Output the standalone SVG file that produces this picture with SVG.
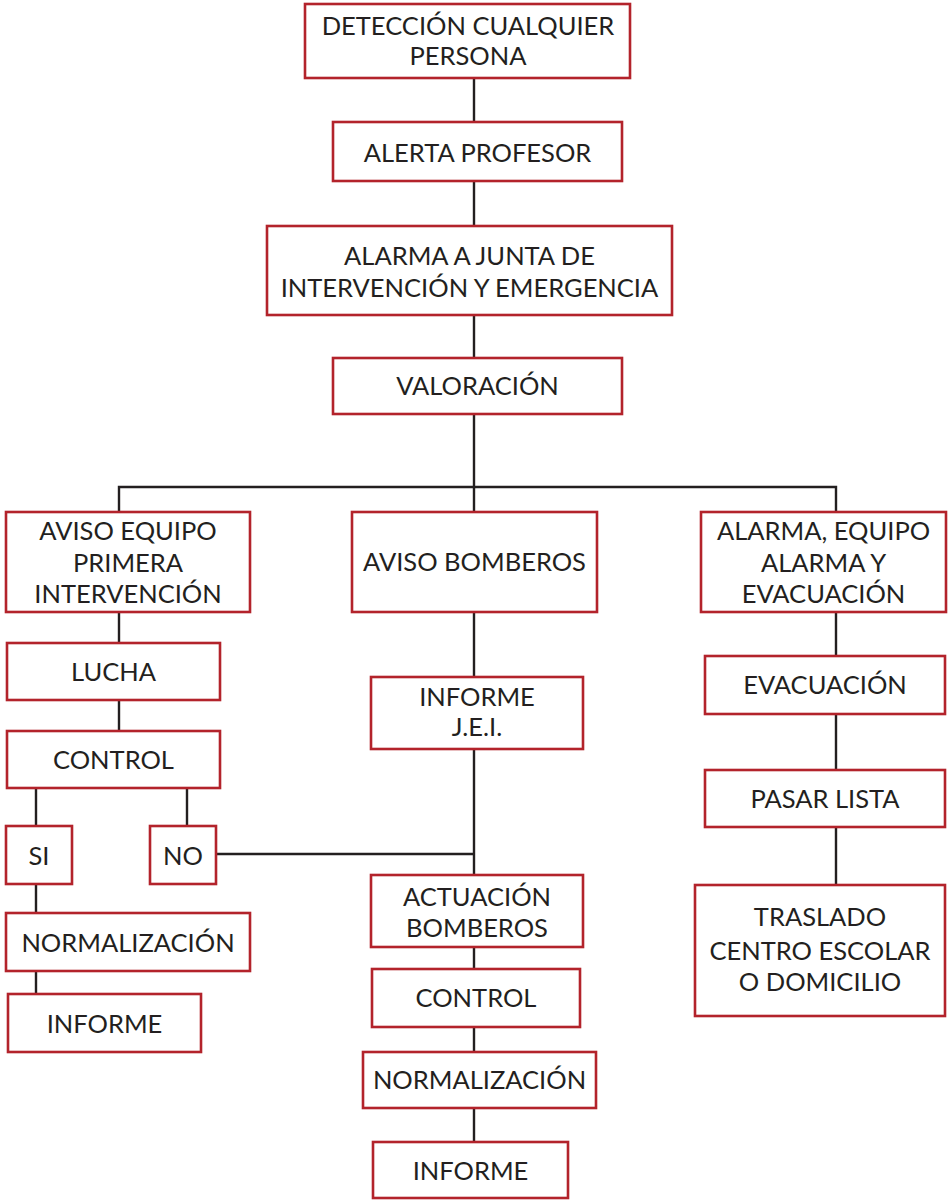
<svg xmlns="http://www.w3.org/2000/svg" width="949" height="1200" viewBox="0 0 949 1200">
<style>
.box{fill:#fff;stroke:#b3232b;stroke-width:2.6}
.ln{fill:none;stroke:#231f20;stroke-width:2.4}
text{font-family:Lato,"Liberation Sans",sans-serif;font-size:25.5px;fill:#231f20;text-anchor:middle}
</style>
<rect width="949" height="1200" fill="#fff"/>
<g id="connectors" class="ln">
<path d="M474,78V122M474,181V226M474,315V358M474,414V512"/>
<path d="M119,512V487H836V512"/>
<path d="M119,612V643M119,700V731M36,788V826M187,788V826M36,884V913M36,971V994"/>
<path d="M216,854H474"/>
<path d="M474,612V677M474,749V875M474,947V969M474,1027V1052M474,1108V1142"/>
<path d="M836,612V656M836,714V770M836,827V885"/>
</g>
<g id="n1"><rect class="box" x="305" y="4" width="325" height="74"/><text x="468" y="35">DETECCIÓN CUALQUIER</text><text x="468" y="65">PERSONA</text></g>
<g id="n2"><rect class="box" x="333" y="122" width="289" height="59"/><text x="477.5" y="162">ALERTA PROFESOR</text></g>
<g id="n3"><rect class="box" x="267" y="226" width="405" height="89"/><text x="469.5" y="265">ALARMA A JUNTA DE</text><text x="469.5" y="297">INTERVENCIÓN Y EMERGENCIA</text></g>
<g id="n4"><rect class="box" x="333" y="358" width="289" height="56"/><text x="477.5" y="395">VALORACIÓN</text></g>
<g id="n5"><rect class="box" x="6" y="512" width="244" height="100"/><text x="128" y="540">AVISO EQUIPO</text><text x="128" y="572">PRIMERA</text><text x="128" y="603">INTERVENCIÓN</text></g>
<g id="n6"><rect class="box" x="352" y="512" width="245" height="100"/><text x="474.5" y="571">AVISO BOMBEROS</text></g>
<g id="n7"><rect class="box" x="701" y="512" width="245" height="100"/><text x="823.5" y="540">ALARMA, EQUIPO</text><text x="823.5" y="572">ALARMA Y</text><text x="823.5" y="603">EVACUACIÓN</text></g>
<g id="n8"><rect class="box" x="7" y="643" width="213" height="57"/><text x="113.5" y="681">LUCHA</text></g>
<g id="n9"><rect class="box" x="7" y="731" width="213" height="57"/><text x="113.5" y="769">CONTROL</text></g>
<g id="n10"><rect class="box" x="6" y="826" width="66" height="58"/><text x="39" y="865">SI</text></g>
<g id="n11"><rect class="box" x="150" y="826" width="66" height="58"/><text x="183" y="865">NO</text></g>
<g id="n12"><rect class="box" x="6" y="913" width="244" height="58"/><text x="128" y="952">NORMALIZACIÓN</text></g>
<g id="n13"><rect class="box" x="8" y="994" width="193" height="58"/><text x="104.5" y="1033">INFORME</text></g>
<g id="n14"><rect class="box" x="371" y="677" width="212" height="72"/><text x="477" y="706">INFORME</text><text x="477" y="736">J.E.I.</text></g>
<g id="n15"><rect class="box" x="371" y="875" width="212" height="72"/><text x="477" y="906">ACTUACIÓN</text><text x="477" y="937">BOMBEROS</text></g>
<g id="n16"><rect class="box" x="372" y="969" width="208" height="58"/><text x="476" y="1007">CONTROL</text></g>
<g id="n17"><rect class="box" x="363" y="1052" width="233" height="56"/><text x="479.5" y="1089">NORMALIZACIÓN</text></g>
<g id="n18"><rect class="box" x="373" y="1142" width="195" height="56"/><text x="470.5" y="1180">INFORME</text></g>
<g id="n19"><rect class="box" x="705" y="656" width="240" height="58"/><text x="825" y="694">EVACUACIÓN</text></g>
<g id="n20"><rect class="box" x="705" y="770" width="240" height="57"/><text x="825" y="808">PASAR LISTA</text></g>
<g id="n21"><rect class="box" x="695" y="885" width="250" height="131"/><text x="820" y="926">TRASLADO</text><text x="820" y="960">CENTRO ESCOLAR</text><text x="820" y="991">O DOMICILIO</text></g>
</svg>
